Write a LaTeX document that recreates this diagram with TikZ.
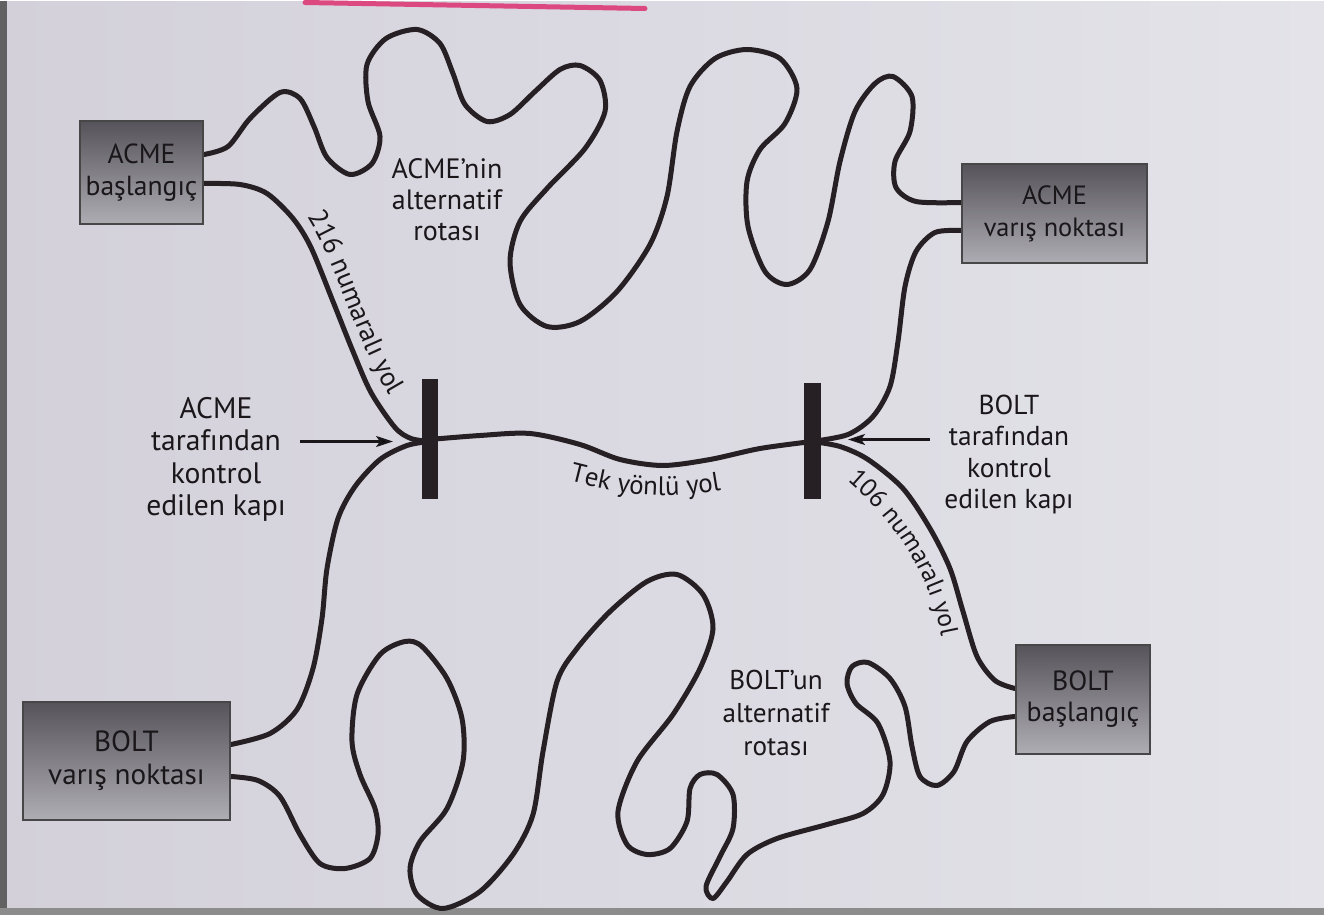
\documentclass[tikz,border=0pt]{standalone}
\usepackage{fontspec}
\newfontfamily\labfont{PT Sans}
\usetikzlibrary{calc,arrows.meta,decorations.text}
\newcommand\fsz[2]{\labfont\fontsize{#1}{#2}\selectfont}
\definecolor{pagel}{RGB}{211,208,218}
\definecolor{pager}{RGB}{227,227,233}
\definecolor{ink}{RGB}{38,31,35}
\definecolor{txt}{RGB}{26,22,26}
\definecolor{boxtop}{RGB}{86,84,90}
\definecolor{boxbot}{RGB}{174,173,179}
\definecolor{marker}{RGB}{220,72,128}
\pgfdeclarelayer{paper}
\pgfdeclarelayer{roads}
\pgfsetlayers{paper,roads,main}
\begin{document}
\begin{tikzpicture}[x=0.5pt,y=-0.5pt,
  road/.style={draw=ink, line width=2.5pt, line cap=round, line join=round},
  gatebar/.style={fill=ink, draw=none, inner sep=0pt, outer sep=0pt},
  box/.style={draw=black!72, line width=1pt, top color=boxtop, bottom color=boxbot,
    align=center, text=txt, inner sep=0pt},
  lbl/.style={align=center, text=txt, inner sep=0pt},
  ptr/.style={draw=txt, line width=1.1pt, -{Stealth[length=8.5pt,width=5.5pt,inset=2pt]}},
  pathtext/.style={decorate, decoration={text along path, text color=txt, text align=center}}
]
\begin{pgfonlayer}{paper}
\shade[left color=pagel, right color=pager] (0,0) rectangle (1324,913);
\fill[black!62] (0,0) rectangle (7,913);
\fill[black!45] (0,906) rectangle (1324,913);
\draw[marker, line width=2.5pt, line cap=round] (305,1) -- (645,7);
\end{pgfonlayer}
\useasboundingbox (0,0) rectangle (1324,913);

% boxes
\node[box, font=\fsz{13.8}{16}, minimum width=61.5pt, minimum height=51.5pt] (acmeS) at (141.5,171.5) {ACME\\başlangıç};
\node[box, font=\fsz{13.2}{16}, minimum width=92.5pt, minimum height=49.5pt] (acmeD) at (1054.5,212.5) {ACME\\varış noktası};
\node[box, font=\fsz{14.6}{16.5}, minimum width=103.5pt, minimum height=59pt] (boltD) at (126.5,759) {BOLT\\varış noktası};
\node[box, font=\fsz{13.9}{15.5}, minimum width=67pt, minimum height=54.5pt] (boltS) at (1083,697.5) {BOLT\\başlangıç};

% gates
\node[gatebar, minimum width=8pt, minimum height=60pt] (gL) at (429.5,438) {};
\node[gatebar, minimum width=8.5pt, minimum height=58pt] (gR) at (812,440) {};

% labels
\node[lbl, font=\fsz{14}{15.5}] (altA) at (447,198) {ACME’nin\\alternatif\\rotası};
\node[lbl, font=\fsz{14.8}{16.2}] (ctlL) at (216,458) {ACME\\tarafından\\kontrol\\edilen kapı};
\node[lbl, font=\fsz{13.7}{15.6}] (ctlR) at (1009,453) {BOLT\\tarafından\\kontrol\\edilen kapı};
\node[lbl, font=\fsz{13.6}{16.5}] (altB) at (776,711) {BOLT’un\\alternatif\\rotası};

% attachment points
\coordinate (aS1) at ($(acmeS.east)+(0,-18.5)$);
\coordinate (aS2) at ($(acmeS.east)+(0,10.5)$);
\coordinate (aD1) at ($(acmeD.west)+(0,-11.5)$);
\coordinate (aD2) at ($(acmeD.west)+(0,16.5)$);
\coordinate (bD1) at ($(boltD.east)+(0,-16)$);
\coordinate (bD2) at ($(boltD.east)+(0,16)$);
\coordinate (bS1) at ($(boltS.west)+(0,-10.5)$);
\coordinate (bS2) at ($(boltS.west)+(0,17.5)$);
\coordinate (jL) at ($(gL.center)+(0,2)$);
\coordinate (jR) at (gR.center);

\begin{pgfonlayer}{roads}
% ACME alternative route
\draw[road] plot[smooth] coordinates {(aS1) (228,145) (250,117) (280,91) (300,97) (314,125) (327,156) (350,173) (372,162) (380,135) (368,100) (367,63) (386,37) (417,28) (440,42) (453,72) (465,103) (487,120) (510,113) (535,90) (560,68) (580,64) (600,79) (605,110) (585,147) (547,187) (520,220) (510,260) (520,303) (547,325) (580,320) (617,290) (650,243) (667,195) (677,130) (690,85) (715,57) (747,48) (780,57) (797,87) (785,122) (760,148) (747,180) (748,225) (765,270) (787,283) (810,268) (828,220) (840,160) (855,110) (875,82) (893,75) (912,95) (910,130) (895,160) (896,186) (916,200) (aD1)};
% ACME destination to right gate
\draw[road] plot[smooth] coordinates {(aD2) (935,231) (916,250) (905,285) (898,340) (890,385) (873,415) (848,433) (jR)};
% one-way road
\draw[road] plot[smooth] coordinates {(gL.center) (480,434) (530,432) (580,443) (620,458) (663,464) (710,458) (760,447) (jR)};
% road 216
\draw[road] plot[smooth] coordinates {(aS2) (240,183) (267,192) (293,217) (311,246) (333,300) (353,350) (371,391) (395,426) (411,437) (jL)};
% left gate to BOLT destination
\draw[road] plot[smooth] coordinates {(jL) (407,444) (380,458) (355,485) (338,517) (327,567) (322,617) (313,667) (297,708) (270,732) (bD1)};
% road 106
\draw[road] plot[smooth] coordinates {(jR) (840,445) (868,458) (903,487) (930,527) (950,567) (963,610) (977,655) (995,679) (bS1)};
% BOLT alternative route
\draw[road] plot[smooth] coordinates {(bS2) (990,720) (967,740) (954,770) (937,784) (920,775) (912,745) (905,705) (890,677) (868,661) (852,665) (847,682) (856,702) (878,722) (890,760) (883,793) (863,812) (827,823) (777,837) (747,853) (727,880) (713,897) (706,885) (720,855) (733,827) (733,793) (717,773) (700,773) (690,787) (687,820) (670,847) (647,853) (627,843) (618,810) (637,760) (673,713) (700,667) (713,627) (703,593) (677,573) (647,580) (610,610) (577,647) (557,680) (543,750) (533,813) (513,853) (480,890) (443,907) (417,893) (410,867) (420,840) (447,807) (463,760) (462,717) (447,677) (422,645) (405,640) (380,653) (357,693) (352,740) (360,773) (375,807) (378,833) (370,857) (345,867) (320,862) (300,833) (280,795) (258,779) (bD2)};
\end{pgfonlayer}

% road names along paths
\coordinate (t1a) at (281,185);
\coordinate (t1b) at (413,427);
\coordinate (t2a) at (834,468);
\coordinate (t2b) at (944,652);
\coordinate (t3a) at (514,468);
\coordinate (t3b) at (776,476);
\path[pathtext, decoration={text={|\fsz{13.6}{16}|216 numaralı yol}}]
  (t1a) .. controls (335,226) and (350,352) .. (t1b);
\path[pathtext, decoration={text={|\fsz{12.8}{16}|106 numaralı yol}}]
  (t2a) .. controls (883,506) and (933,565) .. (t2b);
\path[pathtext, decoration={text={|\fsz{13.4}{16}|Tek yönlü yol}}]
  (t3a) .. controls (596,478) and (636,516) .. (t3b);

% pointer arrows
\coordinate (pL1) at (300,440);
\coordinate (pL2) at (393,440);
\coordinate (pR1) at (930,438);
\coordinate (pR2) at (848,438);
\draw[ptr] (pL1) -- (pL2);
\draw[ptr] (pR1) -- (pR2);
\end{tikzpicture}
\end{document}
